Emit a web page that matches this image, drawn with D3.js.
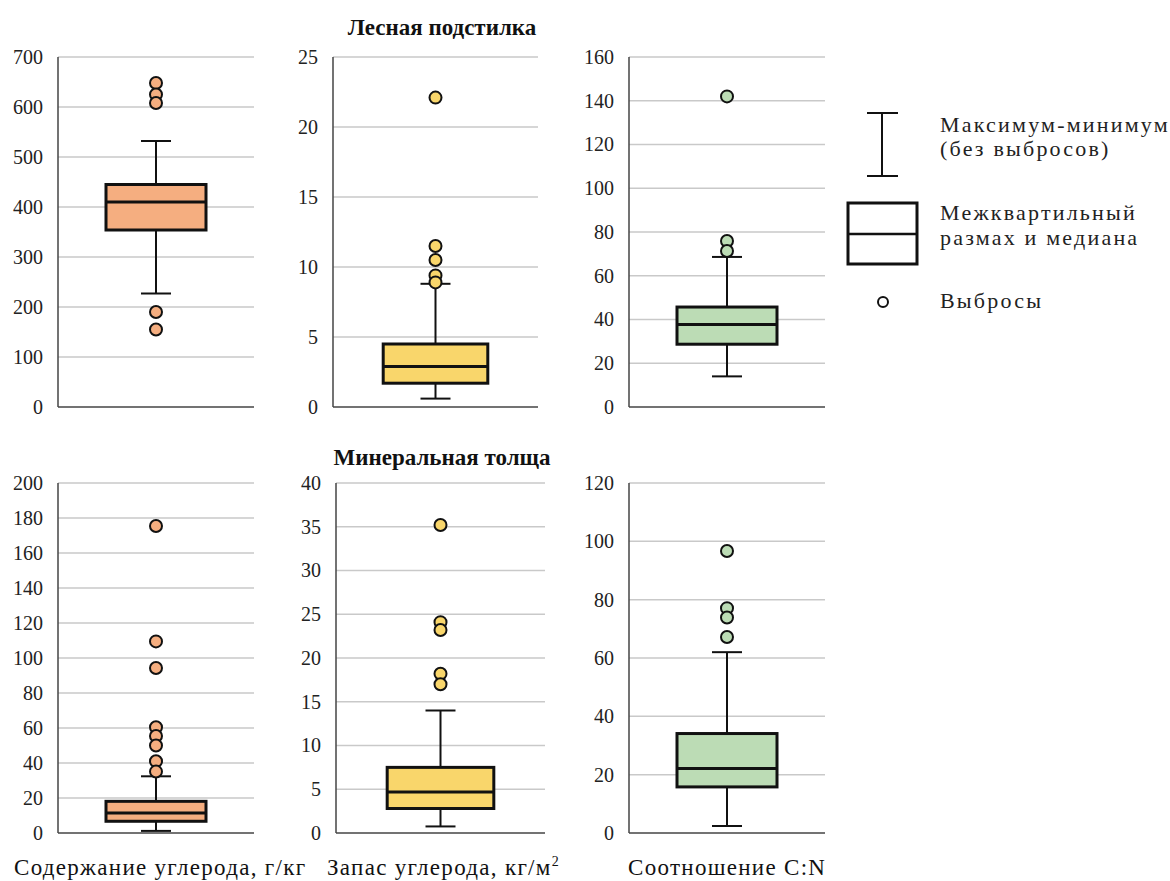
<!DOCTYPE html>
<html>
<head>
<meta charset="utf-8">
<script src="https://cdn.jsdelivr.net/npm/d3@7"></script>
<style>
  body { margin: 0; background: #fff; }
</style>
</head>
<body>
<svg id="chart" width="1170" height="881"></svg>
<script>
const serif = 'Liberation Serif';

// row titles and bottom axis titles
const rowTitles = ['Лесная подстилка', 'Минеральная толща'];
const colTitles = ['Содержание углерода, г/кг', 'Запас углерода, кг/м', 'Соотношение C:N'];

// stats per panel: [whisker low, q1, median, q3, whisker high]
const litterCarbon = [227, 354, 410, 445, 532];
const litterStock = [0.6, 1.7, 2.9, 4.5, 8.8];
const litterCN = [14, 28.7, 37.7, 45.7, 68.6];
const mineralCarbon = [1.2, 6.7, 11.4, 18.1, 32.4];
const mineralStock = [0.75, 2.8, 4.7, 7.5, 14.0];
const mineralCN = [2.4, 15.8, 22.1, 34.1, 62.0];

// outliers per panel
const litterCarbonOut = [648, 625, 608, 190, 155];
const litterStockOut = [22.1, 11.5, 10.5, 9.4, 8.9];
const litterCNOut = [142, 75.9, 71.3];
const mineralCarbonOut = [175.4, 109.5, 94.3, 60.4, 55.4, 50, 41, 35.1];
const mineralStockOut = [35.2, 24.1, 23.2, 18.2, 17.0];
const mineralCNOut = [96.7, 77.1, 73.9, 67.2];

// axis maxima and tick steps
const yMax = [700, 25, 160, 200, 40, 120];
const yStep = [100, 5, 20, 20, 5, 20];

const colors = ['#F5AE80', '#F9D66B', '#BCDCB5'];

const panels = [
  { stats: litterCarbon, out: litterCarbonOut, col: 0, row: 0 },
  { stats: litterStock, out: litterStockOut, col: 1, row: 0 },
  { stats: litterCN, out: litterCNOut, col: 2, row: 0 },
  { stats: mineralCarbon, out: mineralCarbonOut, col: 0, row: 1 },
  { stats: mineralStock, out: mineralStockOut, col: 1, row: 1 },
  { stats: mineralCN, out: mineralCNOut, col: 2, row: 1 }
];

// layout
const rowY = [[57, 407], [483, 833]];
const colX = [[[58, 254], [333, 538], [629, 825]], [[58, 254], [336, 545], [629, 825]]];

const svg = d3.select('#chart');

panels.forEach((p, i) => {
  const [x0, x1] = colX[p.row][p.col];
  const [yTop, yBot] = rowY[p.row];
  const g = svg.append('g');

  const y = d3.scaleLinear().domain([0, yMax[i]]).range([yBot, yTop]);
  const x = d3.scaleBand().domain(['a']).range([x0, x1]).paddingOuter(0.48).paddingInner(0);
  const ticks = d3.range(0, yMax[i] + yStep[i] / 2, yStep[i]);

  // gridlines
  g.selectAll('.grid')
    .data(ticks.filter(t => t > 0))
    .enter().append('line')
    .attr('x1', x0).attr('x2', x1)
    .attr('y1', d => y(d)).attr('y2', d => y(d))
    .attr('stroke', '#c9c9c9').attr('stroke-width', 1.5);

  // y axis labels
  const axis = d3.axisLeft(y).tickValues(ticks).tickSize(0).tickPadding(15);
  const gy = g.append('g').attr('transform', 'translate(' + x0 + ',0)').call(axis)
    .attr('font-family', serif).attr('font-size', 20);
  gy.select('.domain').remove();
  gy.selectAll('text').attr('fill', '#222');

  // axis lines
  g.append('line').attr('x1', x0).attr('x2', x0).attr('y1', yTop).attr('y2', yBot)
    .attr('stroke', '#444').attr('stroke-width', 1.5);
  g.append('line').attr('x1', x0).attr('x2', x1).attr('y1', yBot).attr('y2', yBot)
    .attr('stroke', '#444').attr('stroke-width', 1.5);

  const cx = x('a') + x.bandwidth() / 2;
  const bw = x.bandwidth();
  const capW = 30;
  const [lo, q1, med, q3, hi] = p.stats;

  // whiskers
  g.append('line').attr('x1', cx).attr('x2', cx).attr('y1', y(hi)).attr('y2', y(lo))
    .attr('stroke', '#111').attr('stroke-width', 2);
  [lo, hi].forEach(v => {
    g.append('line').attr('x1', cx - capW / 2).attr('x2', cx + capW / 2)
      .attr('y1', y(v)).attr('y2', y(v))
      .attr('stroke', '#111').attr('stroke-width', 2);
  });

  // box
  g.append('rect')
    .attr('x', cx - bw / 2).attr('width', bw)
    .attr('y', y(q3)).attr('height', y(q1) - y(q3))
    .attr('fill', colors[p.col]).attr('stroke', '#111').attr('stroke-width', 3);
  g.append('line').attr('x1', cx - bw / 2).attr('x2', cx + bw / 2)
    .attr('y1', y(med)).attr('y2', y(med))
    .attr('stroke', '#111').attr('stroke-width', 3);

  // outliers
  g.selectAll('.out')
    .data(p.out)
    .enter().append('circle')
    .attr('cx', cx).attr('cy', d => y(d)).attr('r', 6)
    .attr('fill', colors[p.col]).attr('stroke', '#111').attr('stroke-width', 2);
});

// row titles
svg.selectAll('.rowtitle')
  .data(rowTitles)
  .enter().append('text')
  .attr('x', 442).attr('y', (d, i) => i === 0 ? 35 : 465)
  .attr('text-anchor', 'middle').attr('font-family', serif)
  .attr('font-weight', 'bold').attr('font-size', 23).attr('fill', '#111')
  .text(d => d);

// bottom titles
const titleX = [14, 327, 628];
svg.selectAll('.coltitle')
  .data(colTitles)
  .enter().append('text')
  .attr('x', (d, i) => titleX[i]).attr('y', 875)
  .attr('font-family', serif).attr('font-size', 23).attr('letter-spacing', 1.3)
  .attr('fill', '#111')
  .text(d => d)
  .filter((d, i) => i === 1)
  .append('tspan').attr('dy', -9).attr('font-size', 14).text('2');

// legend
const lg = svg.append('g');
lg.append('line').attr('x1', 882).attr('x2', 882).attr('y1', 113).attr('y2', 176)
  .attr('stroke', '#111').attr('stroke-width', 2);
[113, 176].forEach(v => {
  lg.append('line').attr('x1', 867).attr('x2', 898).attr('y1', v).attr('y2', v)
    .attr('stroke', '#111').attr('stroke-width', 2);
});
lg.append('rect').attr('x', 848).attr('y', 203).attr('width', 69).attr('height', 61)
  .attr('fill', 'none').attr('stroke', '#111').attr('stroke-width', 3);
lg.append('line').attr('x1', 848).attr('x2', 917).attr('y1', 234).attr('y2', 234)
  .attr('stroke', '#111').attr('stroke-width', 2.5);
lg.append('circle').attr('cx', 883).attr('cy', 302).attr('r', 5)
  .attr('fill', '#fff').attr('stroke', '#111').attr('stroke-width', 2);

const legendLines = [
  ['Максимум-минимум', 132],
  ['(без выбросов)', 156],
  ['Межквартильный', 220],
  ['размах и медиана', 245],
  ['Выбросы', 308]
];
lg.selectAll('.lt')
  .data(legendLines)
  .enter().append('text')
  .attr('x', 940).attr('y', d => d[1])
  .attr('font-family', serif)
  .attr('font-size', 22).attr('letter-spacing', 2.2).attr('fill', '#222')
  .text(d => d[0]);
</script>
</body>
</html>
